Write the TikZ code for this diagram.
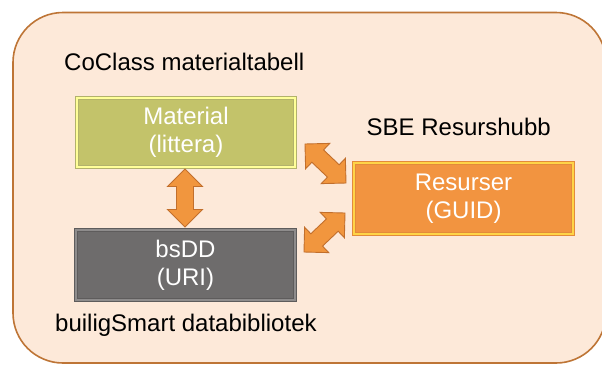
\documentclass[tikz,border=0pt]{standalone}
\usepackage{fontspec}
\setmainfont{Liberation Sans}
\usetikzlibrary{calc}
\definecolor{bgfill}{HTML}{FDE9D9}
\definecolor{bgline}{HTML}{BE7536}
\definecolor{matfill}{HTML}{C3C36A}
\definecolor{matrim}{HTML}{FFFF99}
\definecolor{matline}{HTML}{B2B26C}
\definecolor{bsfill}{HTML}{6E6C6C}
\definecolor{bsrim}{HTML}{8E8C8C}
\definecolor{bsline}{HTML}{5E5C5C}
\definecolor{resfill}{HTML}{F29440}
\definecolor{resrim}{HTML}{FFD447}
\definecolor{resline}{HTML}{E38B3A}
\definecolor{arrfill}{HTML}{F1963E}
\definecolor{arrline}{HTML}{C26F2C}
\tikzset{
  box/.style={draw=#1line, line width=0.8pt, double=#1rim, double distance=2.4pt,
    fill=#1fill, text=white, align=center, font=\fontsize{24}{28}\selectfont,
    inner sep=0pt, outer sep=0pt},
  label/.style={anchor=base west, font=\fontsize{24}{28}\selectfont, text=black, inner sep=0pt},
  blockarrow/.style={fill=arrfill, draw=arrline, line width=0.9pt, line join=miter}
}
\newcommand\blockarrow[2]{%
  \draw[blockarrow] (#1)
    -- ($(#1)!24.75pt!45:(#2)$) -- ($(#1)!19.46pt!25.9:(#2)$)
    -- ($(#2)!19.46pt!-25.9:(#1)$) -- ($(#2)!24.75pt!-45:(#1)$)
    -- (#2)
    -- ($(#2)!24.75pt!45:(#1)$) -- ($(#2)!19.46pt!25.9:(#1)$)
    -- ($(#1)!19.46pt!-25.9:(#2)$) -- ($(#1)!24.75pt!-45:(#2)$)
    -- cycle;}
\begin{document}
\begin{tikzpicture}[x=1pt, y=-1pt]
\useasboundingbox (0,0) rectangle (602,365);
\clip (0,0) rectangle (602,365);
\draw[fill=bgfill, draw=bgline, line width=1.6pt, rounded corners=50pt]
  (13,12.5) rectangle (606,363);

\node[label] (t1) at (64,70) {CoClass materialtabell};
\node[label] (t2) at (366.5,135) {SBE Resurshubb};
\node[label] (t3) at (55,331.5) {builigSmart databibliotek};

\node[box=mat, minimum width=218pt, minimum height=69pt] (mat) at (186,132.5) {Material\\(littera)};
\node[box=bs, minimum width=219pt, minimum height=70pt] (bsdd) at (185.5,265) {bsDD\\(URI)};
\node[box=res, minimum width=219pt, minimum height=71pt] (res) at (463.5,198.5) {Resurser\\(GUID)};

\coordinate (v1) at ($(mat.south)+(-1,2)$);
\coordinate (v2) at ($(bsdd.north)+(-0.5,-3)$);
\coordinate (u1) at ($(mat.east)+(10,11.5)$);
\coordinate (u2) at ($(res.west)+(-8,-15.5)$);
\coordinate (w1) at ($(res.west)+(-9,14.5)$);
\coordinate (w2) at ($(bsdd.east)+(9,-13)$);
\blockarrow{v1}{v2}
\blockarrow{u1}{u2}
\blockarrow{w1}{w2}
\end{tikzpicture}
\end{document}
